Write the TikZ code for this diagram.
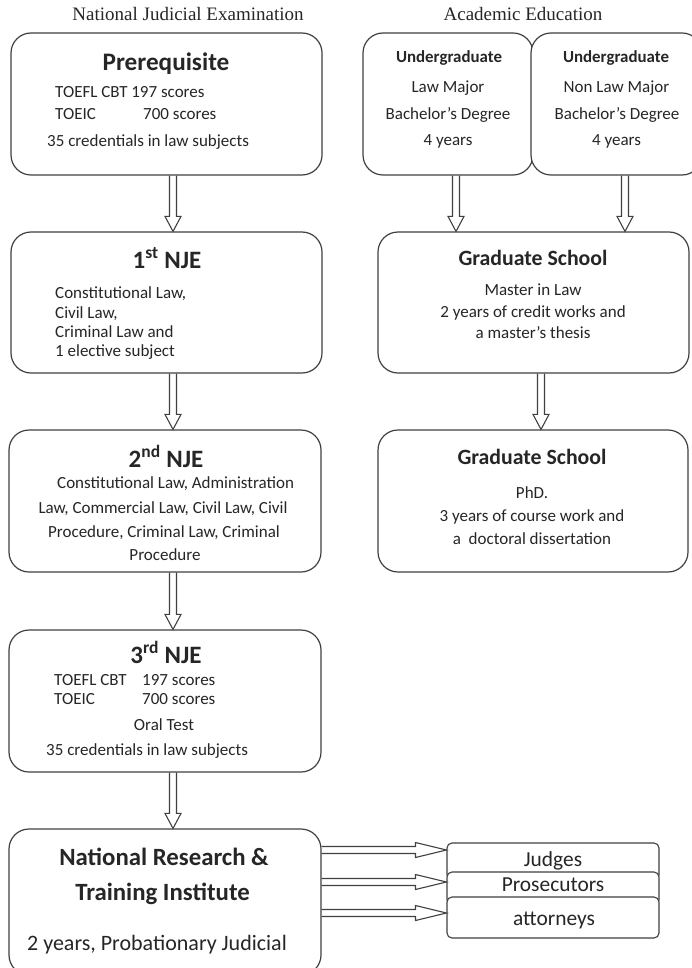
\documentclass[tikz,border=0pt]{standalone}
\usepackage{fontspec}
\setmainfont{Carlito}
\newfontfamily\tnr{Liberation Serif}
\usetikzlibrary{calc}
\tikzset{
  box/.style={draw=black!75, line width=1.2pt, rounded corners=20pt, inner sep=0pt, fill=white},
  sbox/.style={draw=black!75, line width=1.1pt, rounded corners=5pt, inner sep=0pt, fill=white, minimum width=212pt},
  blk/.style={draw=black!75, line width=1.1pt, line join=miter},
  txt/.style={inner sep=0pt, text=black!85, font=\fontsize{17}{20}\selectfont},
  ttl/.style={inner sep=0pt, text=black!85, font=\bfseries\fontsize{25}{28}\selectfont},
  ttlb/.style={inner sep=0pt, text=black!85, font=\bfseries\fontsize{25.2}{28}\selectfont},
  gst/.style={inner sep=0pt, text=black!85, font=\bfseries\fontsize{21.8}{25}\selectfont},
  nrt/.style={inner sep=0pt, text=black!85, font=\bfseries\fontsize{24.8}{28}\selectfont},
  hdr/.style={inner sep=0pt, text=black!85, font=\tnr\fontsize{19}{22}\selectfont},
  sub/.style={inner sep=0pt, text=black!85, font=\bfseries\fontsize{16.9}{20}\selectfont},
  big/.style={inner sep=0pt, text=black!85, font=\fontsize{22}{26}\selectfont},
  lbl/.style={inner sep=0pt, text=black!85, font=\fontsize{21.4}{25}\selectfont},
}
\newcommand\vblock[2]{\draw[blk] let \p1=#1, \p2=#2 in
  (\x1-3.5pt,\y1) -- (\x1-3.5pt,\y2+15pt) -- (\x1-8pt,\y2+15pt) -- (\x1,\y2)
  -- (\x1+8pt,\y2+15pt) -- (\x1+3.5pt,\y2+15pt) -- (\x1+3.5pt,\y1);}
\newcommand\hblock[2]{\draw[blk] let \p1=#1, \p2=#2 in
  (\x1,\y2+3.5pt) -- (\x2-31pt,\y2+3.5pt) -- (\x2-31pt,\y2+7.5pt) -- (\x2,\y2)
  -- (\x2-31pt,\y2-7.5pt) -- (\x2-31pt,\y2-3.5pt) -- (\x1,\y2-3.5pt);}
\begin{document}
\begin{tikzpicture}[x=1pt,y=-1pt]
\useasboundingbox (0,0) rectangle (692,968);

% headers
\node[hdr, anchor=base] (h1) at (188,21) {National Judicial Examination};
\node[hdr, anchor=base] (h2) at (523,21) {Academic Education};

% left column boxes
\node[box, minimum width=311pt, minimum height=142pt] (pre) at (166.5,104) {};
\node[box, minimum width=311pt, minimum height=141pt] (nje1) at (166.5,302.5) {};
\node[box, minimum width=312pt, minimum height=142pt] (nje2) at (165,501) {};
\node[box, minimum width=312pt, minimum height=142pt] (nje3) at (165,701) {};
\node[box, minimum width=312pt, minimum height=146pt] (nrti) at (165,902) {};

% right column boxes
\node[box, minimum width=170pt, minimum height=142pt] (ugl) at (448,104) {};
\node[box, minimum width=171pt, minimum height=142pt] (ugn) at (616.5,104) {};
\node[box, minimum width=311pt, minimum height=141pt] (gs1) at (533.5,302.5) {};
\node[box, minimum width=310pt, minimum height=142pt] (gs2) at (533,501) {};

% outcome boxes
\node[sbox, minimum height=37pt] (judges) at (553,861.5) {};
\node[sbox, minimum height=33pt] (pros) at (553,888.5) {};
\node[sbox, minimum height=41pt] (att) at (553,917.5) {};

% Prerequisite text
\node[ttlb, anchor=base] (p0) at (166,71) {Prerequisite};
\node[txt, anchor=base west] (p1) at (55,98) {TOEFL CBT 197 scores};
\node[txt, anchor=base west] (p2) at (55,120) {TOEIC};
\node[txt, anchor=base west] (p3) at (143,120) {700 scores};
\node[txt, anchor=base west] (p4) at (47,147) {35 credentials in law subjects};

% 1st NJE
\node[ttl, anchor=base] (a0) at (167,268) {1\textsuperscript{st} NJE};
\node[txt, anchor=base west] (a1) at (55,298) {Constitutional Law,};
\node[txt, anchor=base west] (a2) at (55,318) {Civil Law,};
\node[txt, anchor=base west] (a3) at (55,337) {Criminal Law and};
\node[txt, anchor=base west] (a4) at (55,356) {1 elective subject};

% 2nd NJE
\node[ttl, anchor=base] (b0) at (166,467) {2\textsuperscript{nd} NJE};
\node[txt, anchor=base west] (b1) at (57,488) {Constitutional Law, Administration};
\node[txt, anchor=base] (b2) at (163,513) {Law, Commercial Law, Civil Law, Civil};
\node[txt, anchor=base] (b3) at (164,537) {Procedure, Criminal Law, Criminal};
\node[txt, anchor=base] (b4) at (165,560) {Procedure};

% 3rd NJE
\node[ttl, anchor=base] (c0) at (166,663) {3\textsuperscript{rd} NJE};
\node[txt, anchor=base west] (c1) at (54,685) {TOEFL CBT};
\node[txt, anchor=base west] (c2) at (142,685) {197 scores};
\node[txt, anchor=base west] (c3) at (54,704) {TOEIC};
\node[txt, anchor=base west] (c4) at (142,704) {700 scores};
\node[txt, anchor=base] (c5) at (164,730) {Oral Test};
\node[txt, anchor=base west] (c6) at (46,755) {35 credentials in law subjects};

% NRTI
\node[nrt, anchor=base] (d0) at (164,865) {National Research \&};
\node[nrt, anchor=base] (d1) at (162.5,900) {Training Institute};
\node[big, anchor=base] (d2) at (157,950) {2 years, Probationary Judicial};

% Undergraduate Law
\node[sub, anchor=base] (e0) at (449,63) {Undergraduate};
\node[txt, anchor=base] (e1) at (448,93) {Law Major};
\node[txt, anchor=base] (e2) at (448,120) {Bachelor’s Degree};
\node[txt, anchor=base] (e3) at (448,146) {4 years};

% Undergraduate Non Law
\node[sub, anchor=base] (f0) at (616,63) {Undergraduate};
\node[txt, anchor=base] (f1) at (616.5,93) {Non Law Major};
\node[txt, anchor=base] (f2) at (617,120) {Bachelor’s Degree};
\node[txt, anchor=base] (f3) at (616.5,146) {4 years};

% Graduate School 1
\node[gst, anchor=base] (g0) at (533,265) {Graduate School};
\node[txt, anchor=base] (g1) at (533,295) {Master in Law};
\node[txt, anchor=base] (g2) at (533,317) {2 years of credit works and};
\node[txt, anchor=base] (g3) at (533,338) {a master’s thesis};

% Graduate School 2
\node[gst, anchor=base] (k0) at (532,464) {Graduate School};
\node[txt, anchor=base] (k1) at (532,498) {PhD.};
\node[txt, anchor=base] (k2) at (532,521) {3 years of course work and};
\node[txt, anchor=base] (k3) at (532,544) {a\ \ doctoral dissertation};

% outcome labels
\node[lbl, anchor=base] (j0) at (553,866) {Judges};
\node[lbl, anchor=base] (j1) at (553,891) {Prosecutors};
\node[lbl, anchor=base] (j2) at (554,925) {attorneys};

% arrow guide coordinates
\coordinate (axL) at (173,0);
\coordinate (axU1) at (456,0);
\coordinate (axU2) at (625,0);
\coordinate (axG) at (541,0);
\coordinate (hy1) at (0,850);
\coordinate (hy2) at (0,882);
\coordinate (hy3) at (0,913);

% vertical block arrows
\vblock{(pre.south -| axL)}{(nje1.north -| axL)}
\vblock{(nje1.south -| axL)}{(nje2.north -| axL)}
\vblock{(nje2.south -| axL)}{(nje3.north -| axL)}
\vblock{(nje3.south -| axL)}{(nrti.north -| axL)}
\vblock{(ugl.south -| axU1)}{(gs1.north -| axU1)}
\vblock{(ugn.south -| axU2)}{(gs1.north -| axU2)}
\vblock{(gs1.south -| axG)}{(gs2.north -| axG)}

% horizontal block arrows
\hblock{(nrti.east)}{(judges.west |- hy1)}
\hblock{(nrti.east)}{(pros.west |- hy2)}
\hblock{(nrti.east)}{(att.west |- hy3)}
\end{tikzpicture}
\end{document}
